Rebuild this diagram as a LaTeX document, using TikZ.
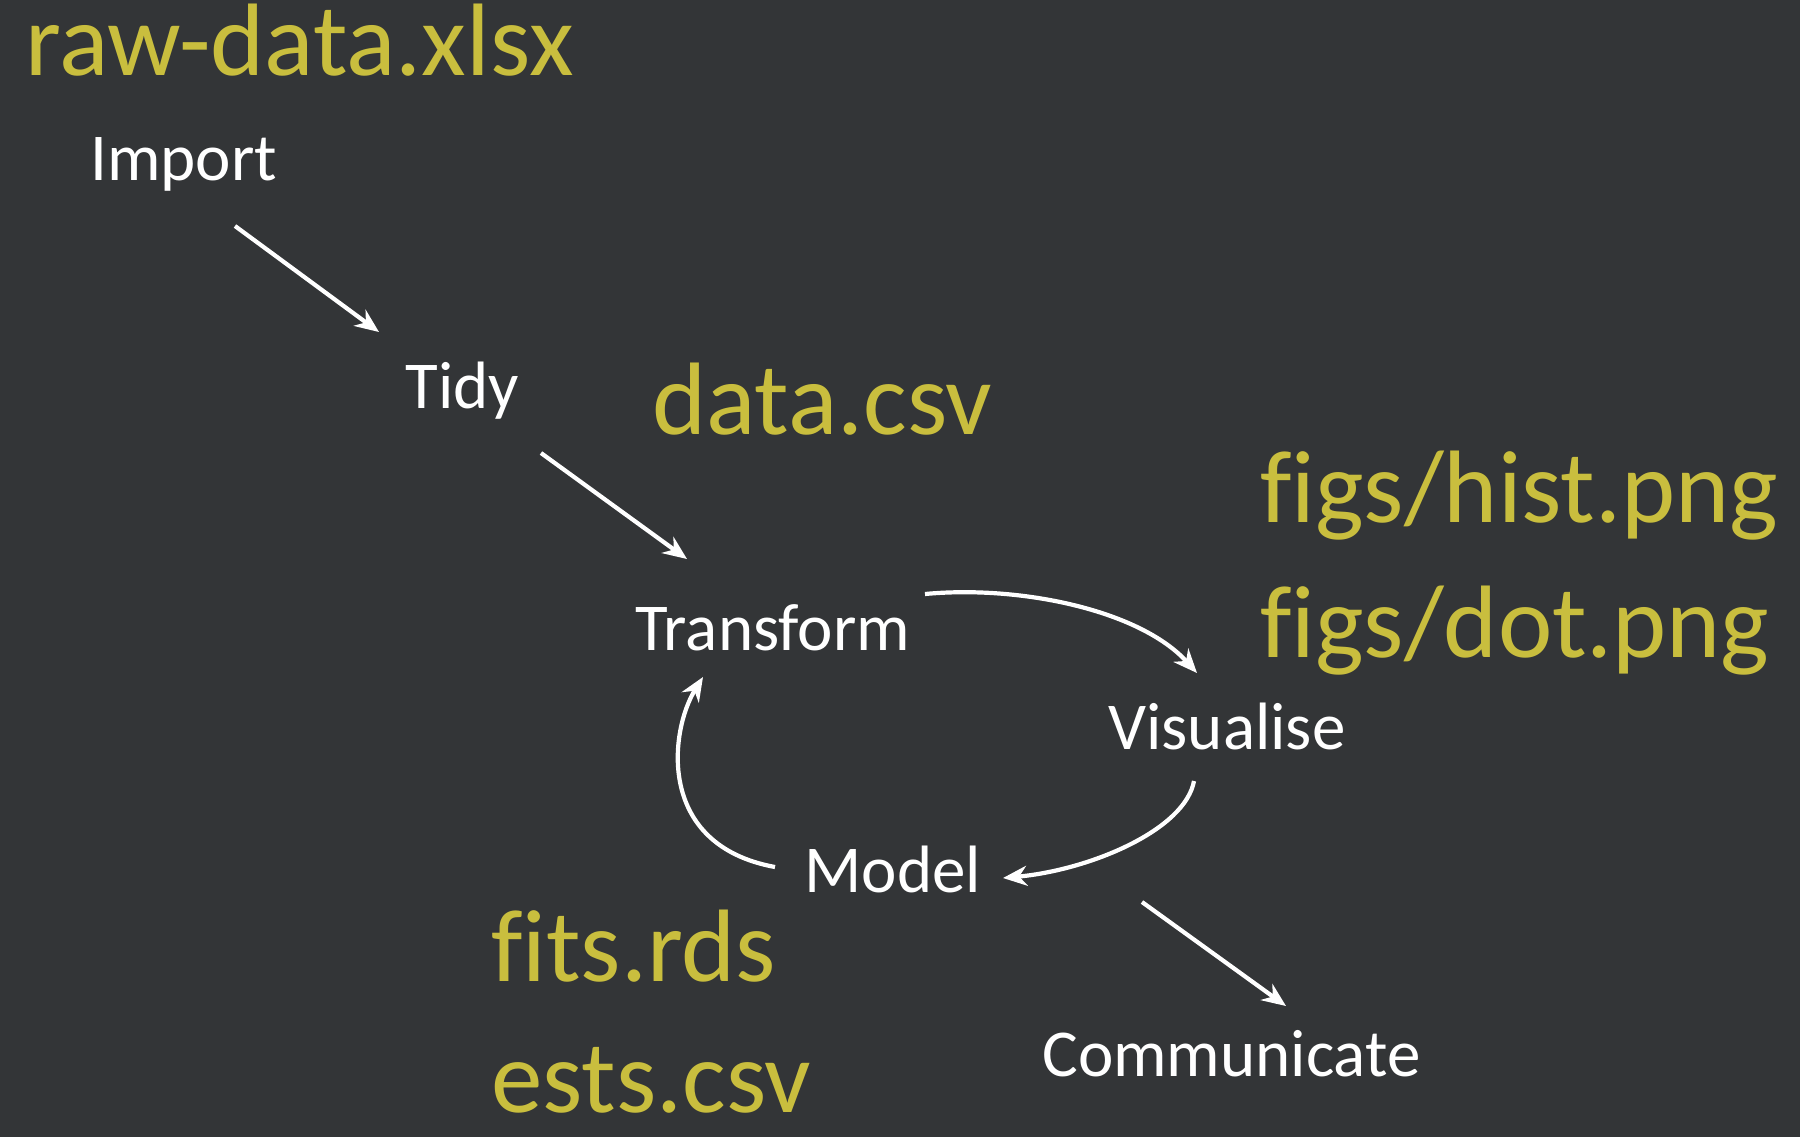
\documentclass[tikz,border=0pt]{standalone}
\usepackage{fontspec}
\setmainfont{Carlito}[Ligatures=NoCommon]
\usetikzlibrary{arrows.meta}
\definecolor{bg}{HTML}{333537}
\definecolor{ylw}{HTML}{C9BE3E}
\tikzset{
  stage/.style={text=white, font=\fontsize{33.5}{40}\selectfont, inner sep=0pt, anchor=base west},
  fileout/.style={text=ylw, font=\fontsize{51.5}{60}\selectfont, inner sep=0pt, anchor=base west},
  arr/.style={draw=white, line width=2.1pt, -{Stealth[length=12pt,width=10pt]}}
}
\begin{document}
\begin{tikzpicture}[x=0.5pt,y=-0.5pt]
\useasboundingbox[fill=bg] (0,0) rectangle (1800,1137);
\node[fileout] (raw) at (25,75) {raw-data.xlsx};
\node[stage] (import) at (90,180) {Import};
\node[stage] (tidy) at (405,408) {Tidy};
\node[fileout] (datacsv) at (652,434) {data.csv};
\node[fileout] (hist) at (1260,522) {figs/hist.png};
\node[fileout] (dot) at (1260,657) {figs/dot.png};
\node[stage] (transform) at (635,650) {Transform};
\node[stage] (visualise) at (1108,749) {Visualise};
\node[stage] (model) at (804,892) {Model};
\node[fileout] (fits) at (491,981) {fits.rds};
\node[fileout] (ests) at (491,1112) {ests.csv};
\node[stage] (communicate) at (1042,1076) {Communicate};

\draw[arr] ([shift={(145,46)}]import.base west) -- ([shift={(-26,-76)}]tidy.base west);
\draw[arr] ([shift={(136,45)}]tidy.base west) -- ([shift={(52,-91)}]transform.base west);
\draw[arr] ([shift={(290,-56)}]transform.base west) .. controls (1020,585) and (1140,610) .. ([shift={(89,-76)}]visualise.base west);
\draw[arr] ([shift={(86,32)}]visualise.base west) .. controls (1185,830) and (1090,870) .. ([shift={(199,-14)}]model.base west);
\draw[arr] ([shift={(-29,-25)}]model.base west) .. controls (655,845) and (670,730) .. ([shift={(68,27)}]transform.base west);
\draw[arr] ([shift={(338,10)}]model.base west) -- ([shift={(244,-70)}]communicate.base west);
\end{tikzpicture}
\end{document}
